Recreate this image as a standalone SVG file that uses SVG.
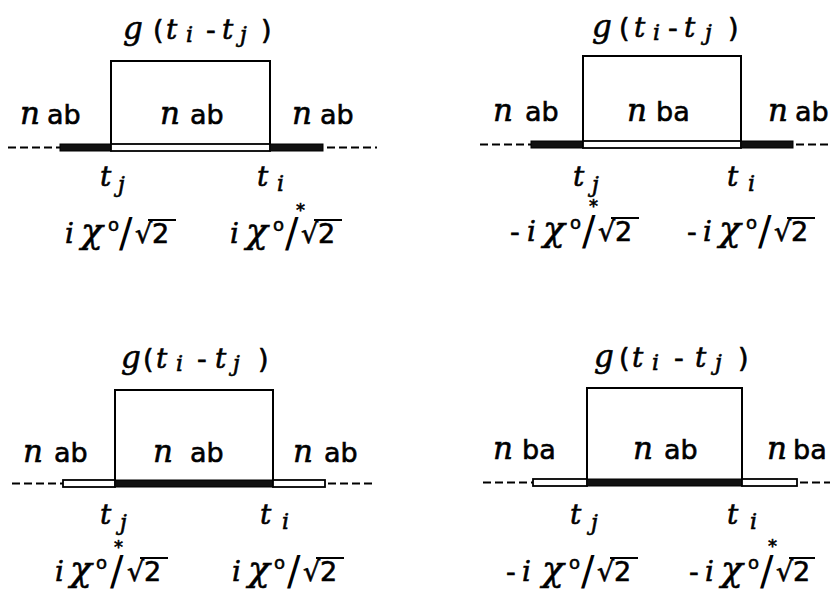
<svg xmlns="http://www.w3.org/2000/svg" width="834" height="599" viewBox="0 0 834 599">
<style>
.bg{fill:#fff}
.box{fill:none;stroke:#000;stroke-width:2}
.dash{stroke:#000;stroke-width:2;stroke-dasharray:8 4;fill:none}
.full{fill:#111;stroke:#000;stroke-width:1}
.hol{fill:#fff;stroke:#000;stroke-width:1.8}
text{fill:#000;stroke:#000;stroke-width:0.6}
.sc{font-family:"DejaVu Serif",serif;font-style:italic;font-size:28px}
.sg{font-size:31px}
.nn{font-size:31px}
.chi{font-size:36px}
.sb{font-family:"DejaVu Serif",serif;font-style:italic;font-size:22px}
.sn{font-family:"DejaVu Sans",sans-serif;font-style:normal;font-size:27px}
.sr{font-family:"DejaVu Sans",sans-serif;font-style:normal;font-size:27px}
.sp{font-family:"DejaVu Sans",sans-serif;font-style:normal;font-size:18px}
.sl{font-family:"DejaVu Sans",sans-serif;font-style:normal;font-size:40px;stroke-width:0}
.bar{stroke:#000;stroke-width:2}
</style>
<rect class="bg" x="0" y="0" width="834" height="599"/>

<g id="connectors">
  <line class="dash" x1="8" y1="147.5" x2="60" y2="147.5"/>
  <rect class="full" x="60" y="144" width="51" height="7"/>
  <rect class="hol" x="111" y="144" width="159" height="7"/>
  <rect class="full" x="270" y="144" width="53" height="7"/>
  <line class="dash" x1="327" y1="147.5" x2="377" y2="147.5"/>

  <line class="dash" x1="480" y1="144.5" x2="531" y2="144.5"/>
  <rect class="full" x="531" y="141" width="52" height="7"/>
  <rect class="hol" x="583" y="141" width="158" height="7"/>
  <rect class="full" x="741" y="141" width="52" height="7"/>
  <line class="dash" x1="796" y1="144.5" x2="830" y2="144.5"/>

  <line class="dash" x1="12" y1="483.5" x2="63" y2="483.5"/>
  <rect class="hol" x="63" y="480" width="52" height="7"/>
  <rect class="full" x="115" y="480" width="158" height="7"/>
  <rect class="hol" x="273" y="480" width="52" height="7"/>
  <line class="dash" x1="328" y1="483.5" x2="375" y2="483.5"/>

  <line class="dash" x1="483" y1="482.5" x2="533" y2="482.5"/>
  <rect class="hol" x="533" y="479" width="54" height="7"/>
  <rect class="full" x="587" y="479" width="155" height="7"/>
  <rect class="hol" x="742" y="479" width="55" height="7"/>
  <line class="dash" x1="800" y1="482.5" x2="830" y2="482.5"/>
</g>

<g id="panel1">
  <path class="box" d="M111,144 V61 H270 V144"/>
  <text class="sc" y="39"><tspan x="123" class="sg">g</tspan><tspan x="153" class="sn">(</tspan><tspan x="166">t</tspan><tspan x="186" y="42" class="sb">i</tspan><tspan x="206" y="39" class="sn">-</tspan><tspan x="222">t</tspan><tspan x="240" y="42" class="sb">j</tspan><tspan x="261" y="39" class="sn">)</tspan></text>
  <text class="sc" y="124"><tspan x="20" class="nn">n</tspan><tspan x="47" class="sn">ab</tspan></text>
  <text class="sc" y="124"><tspan x="160" class="nn">n</tspan><tspan x="190" class="sn">ab</tspan></text>
  <text class="sc" y="124"><tspan x="292" class="nn">n</tspan><tspan x="320" class="sn">ab</tspan></text>
  <text class="sc" y="186"><tspan x="100">t</tspan><tspan x="118" y="192" class="sb">j</tspan></text>
  <text class="sc" y="186"><tspan x="257">t</tspan><tspan x="277" y="191" class="sb">i</tspan></text>
  <text class="sc" y="243"><tspan x="65">i</tspan><tspan x="81" class="chi">χ</tspan><tspan x="108" y="231" class="sp">o</tspan><tspan x="119" y="247" class="sl">/</tspan><tspan x="135" y="243" class="sr">√</tspan><tspan x="152" class="sr">2</tspan></text>
  <line class="bar" x1="148" y1="220" x2="176" y2="220"/>
  <text class="sc" y="243"><tspan x="230">i</tspan><tspan x="246" class="chi">χ</tspan><tspan x="273" y="231" class="sp">o</tspan><tspan x="296" y="216" class="sp">*</tspan><tspan x="285" y="247" class="sl">/</tspan><tspan x="301" y="243" class="sr">√</tspan><tspan x="318" class="sr">2</tspan></text>
  <line class="bar" x1="314" y1="220" x2="342" y2="220"/>
</g>

<g id="panel2">
  <path class="box" d="M583,141 V56 H741 V141"/>
  <text class="sc" y="37"><tspan x="592" class="sg">g</tspan><tspan x="619" class="sn">(</tspan><tspan x="634">t</tspan><tspan x="653" y="40" class="sb">i</tspan><tspan x="668" y="37" class="sn">-</tspan><tspan x="684">t</tspan><tspan x="705" y="40" class="sb">j</tspan><tspan x="728" y="37" class="sn">)</tspan></text>
  <text class="sc" y="121"><tspan x="493" class="nn">n</tspan><tspan x="525" class="sn">ab</tspan></text>
  <text class="sc" y="121"><tspan x="627" class="nn">n</tspan><tspan x="656" class="sn">ba</tspan></text>
  <text class="sc" y="121"><tspan x="768" class="nn">n</tspan><tspan x="795" class="sn">ab</tspan></text>
  <text class="sc" y="186"><tspan x="573">t</tspan><tspan x="592" y="192" class="sb">j</tspan></text>
  <text class="sc" y="186"><tspan x="727">t</tspan><tspan x="748" y="191" class="sb">i</tspan></text>
  <text class="sc" y="241"><tspan x="510" class="sn">-</tspan><tspan x="527">i</tspan><tspan x="543" class="chi">χ</tspan><tspan x="570" y="229" class="sp">o</tspan><tspan x="589" y="212" class="sp">*</tspan><tspan x="582" y="245" class="sl">/</tspan><tspan x="598" y="241" class="sr">√</tspan><tspan x="615" class="sr">2</tspan></text>
  <line class="bar" x1="611" y1="218" x2="639" y2="218"/>
  <text class="sc" y="241"><tspan x="687" class="sn">-</tspan><tspan x="703">i</tspan><tspan x="719" class="chi">χ</tspan><tspan x="746" y="229" class="sp">o</tspan><tspan x="758" y="245" class="sl">/</tspan><tspan x="774" y="241" class="sr">√</tspan><tspan x="791" class="sr">2</tspan></text>
  <line class="bar" x1="787" y1="218" x2="815" y2="218"/>
</g>

<g id="panel3">
  <path class="box" d="M115,480 V390 H273 V480"/>
  <text class="sc" y="368"><tspan x="121" class="sg">g</tspan><tspan x="143" class="sn">(</tspan><tspan x="156">t</tspan><tspan x="176" y="371" class="sb">i</tspan><tspan x="197" y="368" class="sn">-</tspan><tspan x="215">t</tspan><tspan x="233" y="371" class="sb">j</tspan><tspan x="258" y="368" class="sn">)</tspan></text>
  <text class="sc" y="462"><tspan x="23" class="nn">n</tspan><tspan x="54" class="sn">ab</tspan></text>
  <text class="sc" y="462"><tspan x="153" class="nn">n</tspan><tspan x="190" class="sn">ab</tspan></text>
  <text class="sc" y="462"><tspan x="293" class="nn">n</tspan><tspan x="324" class="sn">ab</tspan></text>
  <text class="sc" y="524"><tspan x="100">t</tspan><tspan x="120" y="530" class="sb">j</tspan></text>
  <text class="sc" y="524"><tspan x="260">t</tspan><tspan x="282" y="529" class="sb">i</tspan></text>
  <text class="sc" y="581"><tspan x="55">i</tspan><tspan x="70" class="chi">χ</tspan><tspan x="96" y="569" class="sp">o</tspan><tspan x="114" y="553" class="sp">*</tspan><tspan x="110" y="585" class="sl">/</tspan><tspan x="127" y="581" class="sr">√</tspan><tspan x="144" class="sr">2</tspan></text>
  <line class="bar" x1="140" y1="558" x2="168" y2="558"/>
  <text class="sc" y="581"><tspan x="232">i</tspan><tspan x="248" class="chi">χ</tspan><tspan x="274" y="569" class="sp">o</tspan><tspan x="287" y="585" class="sl">/</tspan><tspan x="303" y="581" class="sr">√</tspan><tspan x="320" class="sr">2</tspan></text>
  <line class="bar" x1="316" y1="558" x2="344" y2="558"/>
</g>

<g id="panel4">
  <path class="box" d="M587,479 V388 H742 V479"/>
  <text class="sc" y="367"><tspan x="594" class="sg">g</tspan><tspan x="619" class="sn">(</tspan><tspan x="632">t</tspan><tspan x="652" y="370" class="sb">i</tspan><tspan x="674" y="367" class="sn">-</tspan><tspan x="695">t</tspan><tspan x="715" y="370" class="sb">j</tspan><tspan x="738" y="367" class="sn">)</tspan></text>
  <text class="sc" y="459"><tspan x="493" class="nn">n</tspan><tspan x="522" class="sn">ba</tspan></text>
  <text class="sc" y="459"><tspan x="633" class="nn">n</tspan><tspan x="664" class="sn">ab</tspan></text>
  <text class="sc" y="459"><tspan x="767" class="nn">n</tspan><tspan x="793" class="sn">ba</tspan></text>
  <text class="sc" y="524"><tspan x="570">t</tspan><tspan x="591" y="530" class="sb">j</tspan></text>
  <text class="sc" y="524"><tspan x="727">t</tspan><tspan x="750" y="529" class="sb">i</tspan></text>
  <text class="sc" y="581"><tspan x="506" class="sn">-</tspan><tspan x="522">i</tspan><tspan x="542" class="chi">χ</tspan><tspan x="569" y="569" class="sp">o</tspan><tspan x="581" y="585" class="sl">/</tspan><tspan x="597" y="581" class="sr">√</tspan><tspan x="614" class="sr">2</tspan></text>
  <line class="bar" x1="610" y1="558" x2="638" y2="558"/>
  <text class="sc" y="581"><tspan x="689" class="sn">-</tspan><tspan x="705">i</tspan><tspan x="721" class="chi">χ</tspan><tspan x="748" y="569" class="sp">o</tspan><tspan x="768" y="552" class="sp">*</tspan><tspan x="760" y="585" class="sl">/</tspan><tspan x="776" y="581" class="sr">√</tspan><tspan x="793" class="sr">2</tspan></text>
  <line class="bar" x1="789" y1="558" x2="815" y2="558"/>
</g>
</svg>
